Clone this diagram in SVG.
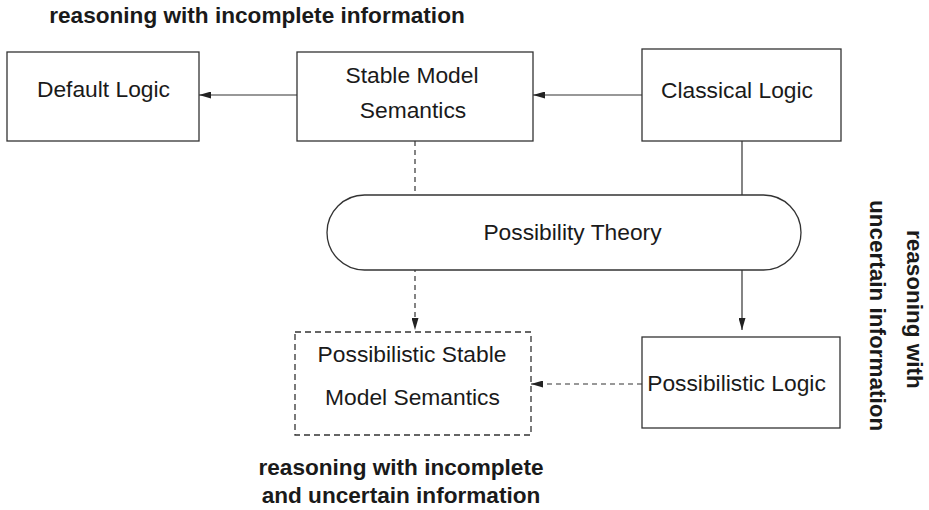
<svg xmlns="http://www.w3.org/2000/svg" width="929" height="510" viewBox="0 0 929 510">
<style>
.box{fill:#fff;stroke:#333;stroke-width:1.3}
.dbox{fill:#fff;stroke:#333;stroke-width:1.3;stroke-dasharray:6,4}
.t{font-family:"Liberation Sans",Arial,sans-serif;font-size:22.8px;fill:#1a1a1a;text-anchor:middle}
.b{font-family:"Liberation Sans",Arial,sans-serif;font-size:22.6px;font-weight:bold;fill:#1a1a1a;text-anchor:middle}
.v{font-family:"Liberation Sans",Arial,sans-serif;font-size:22.5px;font-weight:bold;fill:#1a1a1a;text-anchor:start}
.c{stroke:#333;stroke-width:1.2;fill:none}
.d{stroke:#333;stroke-width:1.2;fill:none;stroke-dasharray:5,4}
</style>
<defs>
<marker id="ah" viewBox="0 0 12 7" refX="12" refY="3.5" markerWidth="12" markerHeight="7" markerUnits="userSpaceOnUse" orient="auto">
<path d="M0,0 L12,3.5 L0,7 Z" fill="#222"/>
</marker>
</defs>
<g id="connectors">
<line class="c" x1="297" y1="95" x2="199" y2="95" marker-end="url(#ah)"/>
<line class="c" x1="642" y1="95" x2="533" y2="95" marker-end="url(#ah)"/>
<line class="c" x1="742" y1="141" x2="742" y2="330" marker-end="url(#ah)"/>
<line class="d" x1="415" y1="141" x2="415" y2="330" marker-end="url(#ah)"/>
<line class="d" x1="642" y1="384" x2="531" y2="384" marker-end="url(#ah)"/>
</g>
<g id="title">
<text class="b" x="257" y="23">reasoning with incomplete information</text>
</g>
<g id="default-logic">
<rect class="box" x="7" y="52" width="192" height="89"/>
<text class="t" x="103.5" y="97">Default Logic</text>
</g>
<g id="stable-model">
<rect class="box" x="297" y="52" width="236" height="89"/>
<text class="t" x="412" y="83">Stable Model</text>
<text class="t" x="413" y="118">Semantics</text>
</g>
<g id="classical-logic">
<rect class="box" x="642" y="49" width="199" height="92"/>
<text class="t" x="737" y="98">Classical Logic</text>
</g>
<g id="possibility-theory">
<rect class="box" x="327" y="195" width="474" height="75" rx="37.5" ry="37.5"/>
<text class="t" x="572.5" y="240">Possibility Theory</text>
</g>
<g id="possibilistic-stable">
<rect class="dbox" x="295" y="332" width="236" height="103"/>
<text class="t" x="412" y="362">Possibilistic Stable</text>
<text class="t" x="412.5" y="405">Model Semantics</text>
</g>
<g id="possibilistic-logic">
<rect class="box" x="642" y="337" width="198" height="91"/>
<text class="t" x="736.5" y="391">Possibilistic Logic</text>
</g>
<g id="label-bottom">
<text class="b" x="401" y="475">reasoning with incomplete</text>
<text class="b" x="401" y="503">and uncertain information</text>
</g>
<g id="label-right">
<text class="v" transform="translate(907,230) rotate(90)">reasoning with</text>
<text class="v" transform="translate(870,200) rotate(90)">uncertain information</text>
</g>
</svg>
